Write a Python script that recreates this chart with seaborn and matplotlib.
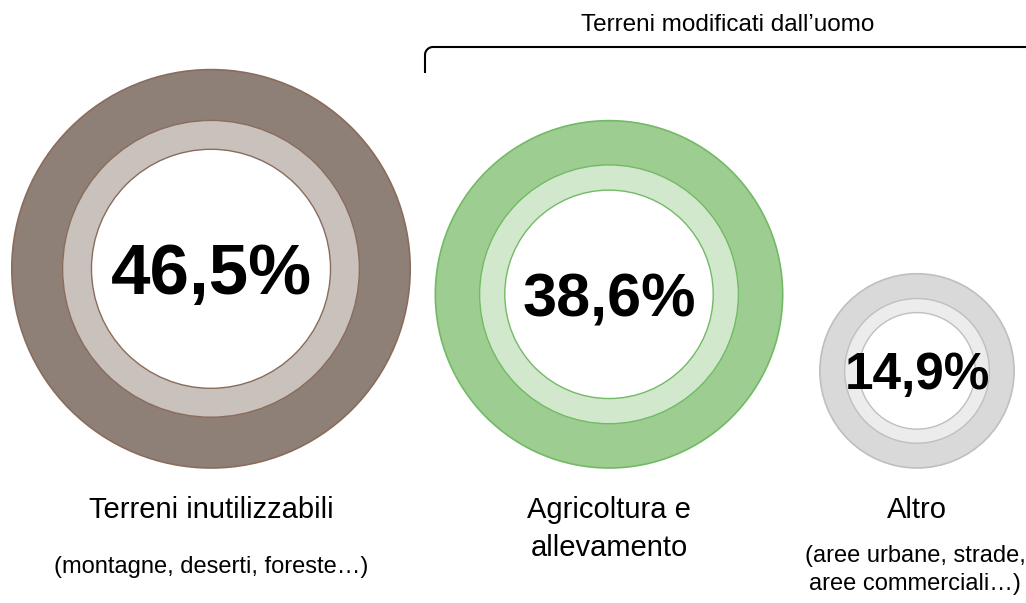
import numpy as np
import seaborn as sns
import matplotlib.pyplot as plt
from matplotlib.patches import Circle

# Dati
categorie = ["Terreni inutilizzabili", "Agricoltura e\nallevamento", "Altro"]
sottotitoli = ["(montagne, deserti, foreste…)", "", "(aree urbane, strade,\naree commerciali…)"]
valori = [46.5, 38.6, 14.9]
titolo_gruppo = "Terreni modificati dall’uomo"

# Stile
colori_esterni = ["#8f8077", "#9ecd91", "#d9d9d9"]
colori_medi = ["#c8c1bc", "#d1e8cc", "#ececec"]
colori_bordo = ["#8a6c5c", "#72ba66", "#bfbfbf"]
centri_x = [211, 609, 917]
base_y = 468
dim_percentuali = [51, 44, 37]

sns.set_theme(style="white")
plt.rcParams['font.family'] = ['Liberation Sans', 'DejaVu Sans']

fig = plt.figure(figsize=(10.26, 6.03), dpi=100)
ax = fig.add_axes([0, 0, 1, 1])
ax.set_xlim(0, 1026)
ax.set_ylim(603, 0)
ax.set_aspect('equal')
ax.axis('off')

for i, v in enumerate(valori):
    r = 49 + 3.23 * v  # raggio proporzionale al valore
    cx = centri_x[i]
    cy = base_y - r
    ax.add_patch(Circle((cx, cy), r, facecolor=colori_esterni[i], edgecolor=colori_bordo[i], lw=1.2))
    ax.add_patch(Circle((cx, cy), r * 0.745, facecolor=colori_medi[i], edgecolor=colori_bordo[i], lw=1.0))
    ax.add_patch(Circle((cx, cy), r * 0.60, facecolor="white", edgecolor=colori_bordo[i], lw=1.0))

    s = dim_percentuali[i]
    ax.text(cx, cy + s * 0.5, f"{v:.1f}%".replace(".", ","), ha='center', va='baseline',
            fontsize=s, fontweight='bold', color='black')

    # etichette
    righe = categorie[i].split("\n")
    for j, riga in enumerate(righe):
        ax.text(cx, 518 + j * 38, riga, ha='center', va='baseline', fontsize=21, color='black')
    if sottotitoli[i]:
        sub = sottotitoli[i].split("\n")
        y0 = 573 if len(sub) == 1 else 562
        for j, riga in enumerate(sub):
            ax.text(cx - 2 * (len(sub) - 1), y0 + j * 28, riga, ha='center', va='baseline',
                    fontsize=17, color='black')

# Parentesi "Terreni modificati dall'uomo"
rc = 8
t = np.linspace(np.pi, 1.5 * np.pi, 20)
arco_x = 425 + rc + rc * np.cos(t)
arco_y = 47 + rc + rc * np.sin(t)
bx = np.concatenate([[425], arco_x, [1030]])
by = np.concatenate([[73], arco_y, [47]])
ax.plot(bx, by, color='black', lw=1.5, solid_capstyle='butt')
ax.text(728, 31, titolo_gruppo, ha='center', va='baseline', fontsize=17.5, color='black')

fig.savefig("out.png", dpi=100)
